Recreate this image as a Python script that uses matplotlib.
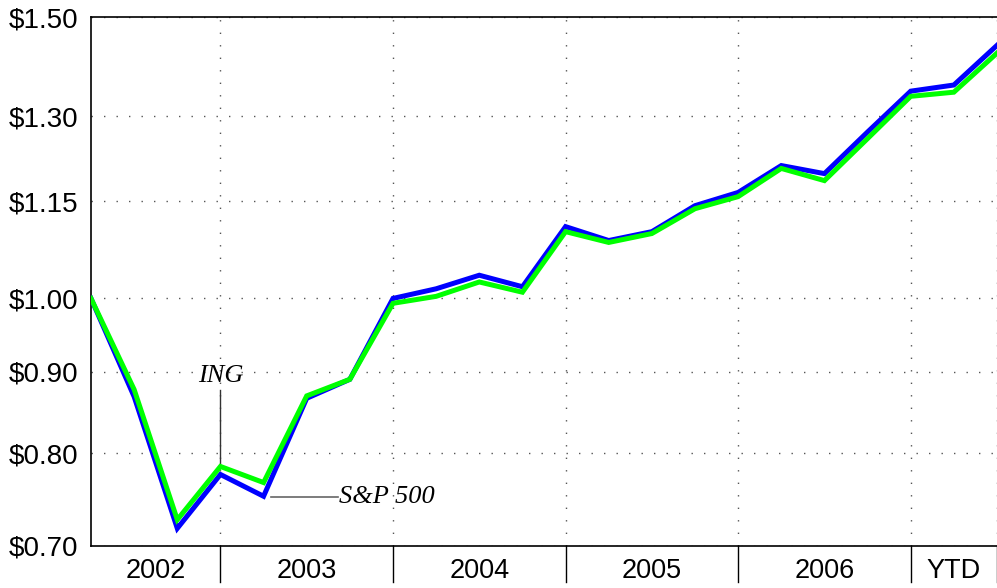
import matplotlib
matplotlib.use('Agg')
import matplotlib.pyplot as plt
from matplotlib.ticker import NullLocator
import matplotlib.transforms as mtransforms

plt.rcParams['font.family'] = ['Liberation Sans', 'DejaVu Sans']

# quarterly growth of $1, Q4 2001 .. Q2 2007
ing = [1.00, 0.868, 0.718, 0.776, 0.752, 0.866, 0.890, 1.000, 1.014, 1.034, 1.017,
       1.109, 1.087, 1.101, 1.143, 1.165, 1.211, 1.197, 1.271, 1.348, 1.360, 1.440]
sp500 = [1.00, 0.877, 0.727, 0.785, 0.767, 0.869, 0.890, 0.993, 1.003, 1.024, 1.009,
         1.101, 1.084, 1.098, 1.138, 1.158, 1.206, 1.185, 1.259, 1.338, 1.346, 1.424]
quarters = list(range(len(ing)))

periods = ['2002', '2003', '2004', '2005', '2006', 'YTD']
period_edges = [0, 3, 7, 11, 15, 19, 21]

y_ticks = [0.70, 0.80, 0.90, 1.00, 1.15, 1.30, 1.50]
y_labels = ['\\$%.2f' % v for v in y_ticks]

fig = plt.figure(figsize=(9.97, 5.88), dpi=100)
ax = fig.add_axes([91 / 997, 42 / 588, 906 / 997, 529 / 588])

ax.plot(quarters, ing, color='#0000ff', lw=3.6, solid_joinstyle='miter', zorder=3)
ax.plot(quarters, sp500, color='#00ff00', lw=3.6, solid_joinstyle='miter', zorder=4)

ax.set_yscale('log')
ax.set_ylim(0.70, 1.50)
ax.set_xlim(0, 21)
ax.set_yticks(y_ticks)
ax.set_yticklabels(y_labels, fontsize=20)
ax.yaxis.set_minor_locator(NullLocator())
ax.set_xticks(period_edges[1:])
ax.set_xticklabels([])
ax.tick_params(length=0, pad=9)

ax.grid(True, linestyle=(0, (1, 8)), color='#555555', lw=1)
for s in ['left', 'bottom', 'top']:
    ax.spines[s].set_linewidth(1.2)
ax.spines['right'].set_visible(False)

# year band under the axis
trans = mtransforms.blended_transform_factory(ax.transData, ax.transAxes)
for e in period_edges[1:]:
    ax.plot([e, e], [0, -0.068], color='black', lw=1, transform=trans, clip_on=False)
for i, p in enumerate(periods):
    mid = (period_edges[i] + period_edges[i + 1]) / 2
    ax.text(mid, -0.048, p, transform=trans, ha='center', va='center', fontsize=19.5)

# labels
serif = ['Liberation Serif', 'DejaVu Serif']
ax.plot([3, 3], [0.787, 0.877], color='#333333', lw=1, zorder=2)
ax.text(3, 0.894, 'ING', ha='center', va='center', fontsize=19, style='italic', family=serif)
ax.plot([4.17, 5.72], [0.7514, 0.7514], color='#666666', lw=1.2, zorder=2)
ax.text(5.75, 0.7514, 'S&P 500', ha='left', va='center', fontsize=19, style='italic', family=serif)

fig.savefig('out.png', dpi=100)
